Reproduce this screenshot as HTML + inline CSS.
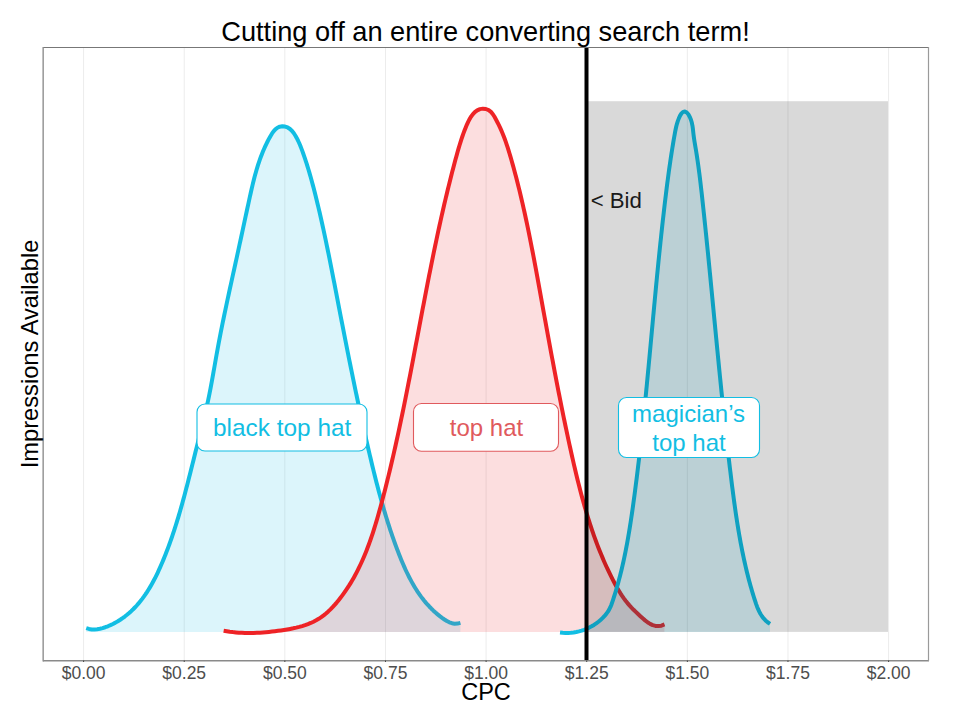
<!DOCTYPE html>
<html><head><meta charset="utf-8"><style>html,body{margin:0;padding:0;background:#fff;}svg{display:block;}text{font-family:"Liberation Sans",sans-serif;}</style></head>
<body><svg width="960" height="720" viewBox="0 0 960 720" font-family="Liberation Sans, sans-serif">
<rect width="960" height="720" fill="#fff"/>
<line x1="83.60" y1="48" x2="83.60" y2="660" stroke="#ececec" stroke-width="1"/>
<line x1="184.22" y1="48" x2="184.22" y2="660" stroke="#ececec" stroke-width="1"/>
<line x1="284.85" y1="48" x2="284.85" y2="660" stroke="#ececec" stroke-width="1"/>
<line x1="385.48" y1="48" x2="385.48" y2="660" stroke="#ececec" stroke-width="1"/>
<line x1="486.10" y1="48" x2="486.10" y2="660" stroke="#ececec" stroke-width="1"/>
<line x1="586.73" y1="48" x2="586.73" y2="660" stroke="#ececec" stroke-width="1"/>
<line x1="687.35" y1="48" x2="687.35" y2="660" stroke="#ececec" stroke-width="1"/>
<line x1="787.98" y1="48" x2="787.98" y2="660" stroke="#ececec" stroke-width="1"/>
<line x1="888.60" y1="48" x2="888.60" y2="660" stroke="#ececec" stroke-width="1"/>

<path d="M86.24,628.10 L88.99,628.96 L91.74,629.41 L94.48,629.50 L97.20,629.28 L99.90,628.80 L102.58,628.10 L105.22,627.24 L107.84,626.26 L110.41,625.16 L112.94,623.95 L115.42,622.64 L117.85,621.23 L120.23,619.74 L122.55,618.16 L124.81,616.51 L127.00,614.79 L129.12,613.00 L131.17,611.15 L133.16,609.24 L135.08,607.27 L136.95,605.24 L138.75,603.16 L140.50,601.04 L142.20,598.86 L143.84,596.64 L145.43,594.38 L146.97,592.08 L148.46,589.74 L149.91,587.36 L151.31,584.95 L152.68,582.51 L154.00,580.05 L155.29,577.56 L156.54,575.05 L157.76,572.51 L158.94,569.96 L160.10,567.40 L161.23,564.82 L162.34,562.24 L163.42,559.64 L164.48,557.05 L165.52,554.44 L166.53,551.83 L167.53,549.22 L168.51,546.60 L169.47,543.98 L170.41,541.36 L171.34,538.73 L172.25,536.09 L173.14,533.45 L174.01,530.81 L174.88,528.17 L175.72,525.52 L176.55,522.87 L177.37,520.21 L178.18,517.55 L178.97,514.89 L179.76,512.22 L180.53,509.55 L181.29,506.88 L182.04,504.21 L182.78,501.53 L183.51,498.86 L184.24,496.17 L184.96,493.49 L185.67,490.81 L186.37,488.12 L187.07,485.43 L187.77,482.74 L188.46,480.05 L189.14,477.35 L189.82,474.66 L190.50,471.96 L191.18,469.26 L191.86,466.56 L192.53,463.86 L193.21,461.16 L193.88,458.46 L194.56,455.76 L195.23,453.05 L195.91,450.35 L196.59,447.65 L197.28,444.94 L197.97,442.24 L198.66,439.54 L199.35,436.83 L200.03,434.13 L200.72,431.42 L201.41,428.71 L202.09,426.00 L202.76,423.29 L203.43,420.58 L204.09,417.87 L204.75,415.16 L205.39,412.44 L206.02,409.72 L206.65,407.00 L207.26,404.28 L207.85,401.56 L208.43,398.83 L209.00,396.10 L209.55,393.37 L210.09,390.64 L210.62,387.91 L211.13,385.17 L211.64,382.43 L212.14,379.69 L212.64,376.95 L213.13,374.21 L213.61,371.47 L214.10,368.73 L214.58,365.99 L215.06,363.25 L215.54,360.50 L216.02,357.76 L216.51,355.02 L217.00,352.28 L217.50,349.54 L218.00,346.81 L218.51,344.07 L219.03,341.34 L219.55,338.60 L220.08,335.87 L220.61,333.14 L221.15,330.40 L221.70,327.67 L222.25,324.94 L222.80,322.22 L223.36,319.49 L223.92,316.76 L224.49,314.03 L225.06,311.31 L225.63,308.58 L226.21,305.86 L226.79,303.13 L227.37,300.41 L227.96,297.68 L228.54,294.96 L229.13,292.24 L229.72,289.51 L230.32,286.79 L230.91,284.07 L231.51,281.34 L232.10,278.62 L232.70,275.90 L233.30,273.17 L233.90,270.45 L234.50,267.73 L235.10,265.00 L235.69,262.28 L236.29,259.56 L236.89,256.83 L237.48,254.11 L238.08,251.38 L238.67,248.66 L239.26,245.93 L239.85,243.20 L240.44,240.48 L241.03,237.75 L241.62,235.02 L242.20,232.30 L242.79,229.57 L243.37,226.84 L243.96,224.12 L244.54,221.39 L245.13,218.67 L245.72,215.95 L246.30,213.22 L246.89,210.50 L247.48,207.78 L248.07,205.07 L248.66,202.35 L249.25,199.63 L249.84,196.92 L250.44,194.21 L251.05,191.50 L251.67,188.80 L252.30,186.10 L252.94,183.40 L253.60,180.71 L254.29,178.02 L255.00,175.34 L255.74,172.67 L256.50,170.00 L257.30,167.34 L258.13,164.69 L259.01,162.04 L259.92,159.41 L260.88,156.78 L261.88,154.17 L262.93,151.56 L264.03,148.96 L265.19,146.38 L266.41,143.80 L267.68,141.24 L269.02,138.69 L270.43,136.16 L271.92,133.68 L273.54,131.37 L275.35,129.35 L277.40,127.75 L279.73,126.69 L282.33,126.27 L285.03,126.55 L287.63,127.49 L290.00,129.02 L292.08,130.98 L293.87,133.26 L295.44,135.71 L296.83,138.22 L298.10,140.75 L299.26,143.27 L300.33,145.81 L301.33,148.36 L302.29,150.92 L303.22,153.50 L304.13,156.09 L305.01,158.70 L305.88,161.32 L306.73,163.96 L307.56,166.60 L308.37,169.26 L309.17,171.93 L309.95,174.60 L310.72,177.29 L311.47,179.98 L312.20,182.68 L312.93,185.39 L313.64,188.10 L314.34,190.81 L315.04,193.53 L315.72,196.25 L316.39,198.97 L317.05,201.69 L317.71,204.41 L318.36,207.13 L319.00,209.86 L319.64,212.58 L320.26,215.30 L320.88,218.03 L321.50,220.75 L322.11,223.47 L322.71,226.20 L323.30,228.92 L323.89,231.65 L324.48,234.38 L325.06,237.10 L325.64,239.83 L326.21,242.55 L326.77,245.28 L327.33,248.01 L327.89,250.74 L328.45,253.46 L329.00,256.19 L329.55,258.92 L330.09,261.65 L330.63,264.38 L331.17,267.11 L331.71,269.84 L332.24,272.57 L332.78,275.30 L333.31,278.03 L333.84,280.76 L334.37,283.49 L334.90,286.22 L335.42,288.95 L335.95,291.68 L336.48,294.42 L337.00,297.15 L337.53,299.88 L338.06,302.61 L338.58,305.35 L339.11,308.08 L339.64,310.82 L340.17,313.55 L340.70,316.28 L341.23,319.02 L341.76,321.75 L342.29,324.49 L342.83,327.22 L343.36,329.96 L343.89,332.69 L344.43,335.42 L344.97,338.16 L345.51,340.89 L346.05,343.63 L346.59,346.36 L347.13,349.10 L347.67,351.83 L348.22,354.56 L348.76,357.30 L349.31,360.03 L349.86,362.76 L350.41,365.50 L350.97,368.23 L351.52,370.96 L352.08,373.69 L352.63,376.42 L353.19,379.16 L353.76,381.89 L354.32,384.62 L354.89,387.35 L355.45,390.08 L356.02,392.80 L356.60,395.53 L357.17,398.26 L357.75,400.99 L358.33,403.71 L358.91,406.44 L359.49,409.16 L360.08,411.89 L360.67,414.61 L361.26,417.34 L361.86,420.06 L362.46,422.78 L363.06,425.50 L363.66,428.22 L364.26,430.94 L364.87,433.66 L365.49,436.37 L366.10,439.09 L366.72,441.80 L367.34,444.52 L367.96,447.23 L368.59,449.94 L369.22,452.66 L369.86,455.37 L370.50,458.07 L371.14,460.78 L371.79,463.49 L372.44,466.19 L373.10,468.90 L373.76,471.60 L374.43,474.30 L375.11,477.00 L375.79,479.69 L376.48,482.39 L377.18,485.08 L377.88,487.77 L378.59,490.46 L379.32,493.15 L380.05,495.84 L380.78,498.52 L381.53,501.20 L382.29,503.88 L383.06,506.55 L383.84,509.22 L384.63,511.89 L385.43,514.56 L386.24,517.23 L387.07,519.89 L387.90,522.55 L388.75,525.20 L389.61,527.86 L390.49,530.51 L391.38,533.15 L392.28,535.80 L393.20,538.44 L394.13,541.07 L395.08,543.71 L396.04,546.34 L397.01,548.96 L398.01,551.58 L399.02,554.20 L400.05,556.81 L401.10,559.41 L402.17,562.01 L403.27,564.58 L404.40,567.15 L405.55,569.70 L406.74,572.23 L407.95,574.74 L409.21,577.22 L410.50,579.69 L411.82,582.13 L413.19,584.54 L414.60,586.92 L416.05,589.27 L417.55,591.59 L419.10,593.87 L420.69,596.12 L422.34,598.33 L424.04,600.49 L425.80,602.62 L427.62,604.70 L429.49,606.73 L431.43,608.72 L433.42,610.65 L435.49,612.54 L437.62,614.37 L439.81,616.14 L442.08,617.86 L444.43,619.51 L446.85,621.03 L449.35,622.30 L451.96,623.23 L454.66,623.71 L457.48,623.62 L460.41,622.86 L460.40,631.90 L86.25,631.90 Z" fill="#12bee3" fill-opacity="0.15"/>
<path d="M86.24,628.10 L88.99,628.96 L91.74,629.41 L94.48,629.50 L97.20,629.28 L99.90,628.80 L102.58,628.10 L105.22,627.24 L107.84,626.26 L110.41,625.16 L112.94,623.95 L115.42,622.64 L117.85,621.23 L120.23,619.74 L122.55,618.16 L124.81,616.51 L127.00,614.79 L129.12,613.00 L131.17,611.15 L133.16,609.24 L135.08,607.27 L136.95,605.24 L138.75,603.16 L140.50,601.04 L142.20,598.86 L143.84,596.64 L145.43,594.38 L146.97,592.08 L148.46,589.74 L149.91,587.36 L151.31,584.95 L152.68,582.51 L154.00,580.05 L155.29,577.56 L156.54,575.05 L157.76,572.51 L158.94,569.96 L160.10,567.40 L161.23,564.82 L162.34,562.24 L163.42,559.64 L164.48,557.05 L165.52,554.44 L166.53,551.83 L167.53,549.22 L168.51,546.60 L169.47,543.98 L170.41,541.36 L171.34,538.73 L172.25,536.09 L173.14,533.45 L174.01,530.81 L174.88,528.17 L175.72,525.52 L176.55,522.87 L177.37,520.21 L178.18,517.55 L178.97,514.89 L179.76,512.22 L180.53,509.55 L181.29,506.88 L182.04,504.21 L182.78,501.53 L183.51,498.86 L184.24,496.17 L184.96,493.49 L185.67,490.81 L186.37,488.12 L187.07,485.43 L187.77,482.74 L188.46,480.05 L189.14,477.35 L189.82,474.66 L190.50,471.96 L191.18,469.26 L191.86,466.56 L192.53,463.86 L193.21,461.16 L193.88,458.46 L194.56,455.76 L195.23,453.05 L195.91,450.35 L196.59,447.65 L197.28,444.94 L197.97,442.24 L198.66,439.54 L199.35,436.83 L200.03,434.13 L200.72,431.42 L201.41,428.71 L202.09,426.00 L202.76,423.29 L203.43,420.58 L204.09,417.87 L204.75,415.16 L205.39,412.44 L206.02,409.72 L206.65,407.00 L207.26,404.28 L207.85,401.56 L208.43,398.83 L209.00,396.10 L209.55,393.37 L210.09,390.64 L210.62,387.91 L211.13,385.17 L211.64,382.43 L212.14,379.69 L212.64,376.95 L213.13,374.21 L213.61,371.47 L214.10,368.73 L214.58,365.99 L215.06,363.25 L215.54,360.50 L216.02,357.76 L216.51,355.02 L217.00,352.28 L217.50,349.54 L218.00,346.81 L218.51,344.07 L219.03,341.34 L219.55,338.60 L220.08,335.87 L220.61,333.14 L221.15,330.40 L221.70,327.67 L222.25,324.94 L222.80,322.22 L223.36,319.49 L223.92,316.76 L224.49,314.03 L225.06,311.31 L225.63,308.58 L226.21,305.86 L226.79,303.13 L227.37,300.41 L227.96,297.68 L228.54,294.96 L229.13,292.24 L229.72,289.51 L230.32,286.79 L230.91,284.07 L231.51,281.34 L232.10,278.62 L232.70,275.90 L233.30,273.17 L233.90,270.45 L234.50,267.73 L235.10,265.00 L235.69,262.28 L236.29,259.56 L236.89,256.83 L237.48,254.11 L238.08,251.38 L238.67,248.66 L239.26,245.93 L239.85,243.20 L240.44,240.48 L241.03,237.75 L241.62,235.02 L242.20,232.30 L242.79,229.57 L243.37,226.84 L243.96,224.12 L244.54,221.39 L245.13,218.67 L245.72,215.95 L246.30,213.22 L246.89,210.50 L247.48,207.78 L248.07,205.07 L248.66,202.35 L249.25,199.63 L249.84,196.92 L250.44,194.21 L251.05,191.50 L251.67,188.80 L252.30,186.10 L252.94,183.40 L253.60,180.71 L254.29,178.02 L255.00,175.34 L255.74,172.67 L256.50,170.00 L257.30,167.34 L258.13,164.69 L259.01,162.04 L259.92,159.41 L260.88,156.78 L261.88,154.17 L262.93,151.56 L264.03,148.96 L265.19,146.38 L266.41,143.80 L267.68,141.24 L269.02,138.69 L270.43,136.16 L271.92,133.68 L273.54,131.37 L275.35,129.35 L277.40,127.75 L279.73,126.69 L282.33,126.27 L285.03,126.55 L287.63,127.49 L290.00,129.02 L292.08,130.98 L293.87,133.26 L295.44,135.71 L296.83,138.22 L298.10,140.75 L299.26,143.27 L300.33,145.81 L301.33,148.36 L302.29,150.92 L303.22,153.50 L304.13,156.09 L305.01,158.70 L305.88,161.32 L306.73,163.96 L307.56,166.60 L308.37,169.26 L309.17,171.93 L309.95,174.60 L310.72,177.29 L311.47,179.98 L312.20,182.68 L312.93,185.39 L313.64,188.10 L314.34,190.81 L315.04,193.53 L315.72,196.25 L316.39,198.97 L317.05,201.69 L317.71,204.41 L318.36,207.13 L319.00,209.86 L319.64,212.58 L320.26,215.30 L320.88,218.03 L321.50,220.75 L322.11,223.47 L322.71,226.20 L323.30,228.92 L323.89,231.65 L324.48,234.38 L325.06,237.10 L325.64,239.83 L326.21,242.55 L326.77,245.28 L327.33,248.01 L327.89,250.74 L328.45,253.46 L329.00,256.19 L329.55,258.92 L330.09,261.65 L330.63,264.38 L331.17,267.11 L331.71,269.84 L332.24,272.57 L332.78,275.30 L333.31,278.03 L333.84,280.76 L334.37,283.49 L334.90,286.22 L335.42,288.95 L335.95,291.68 L336.48,294.42 L337.00,297.15 L337.53,299.88 L338.06,302.61 L338.58,305.35 L339.11,308.08 L339.64,310.82 L340.17,313.55 L340.70,316.28 L341.23,319.02 L341.76,321.75 L342.29,324.49 L342.83,327.22 L343.36,329.96 L343.89,332.69 L344.43,335.42 L344.97,338.16 L345.51,340.89 L346.05,343.63 L346.59,346.36 L347.13,349.10 L347.67,351.83 L348.22,354.56 L348.76,357.30 L349.31,360.03 L349.86,362.76 L350.41,365.50 L350.97,368.23 L351.52,370.96 L352.08,373.69 L352.63,376.42 L353.19,379.16 L353.76,381.89 L354.32,384.62 L354.89,387.35 L355.45,390.08 L356.02,392.80 L356.60,395.53 L357.17,398.26 L357.75,400.99 L358.33,403.71 L358.91,406.44 L359.49,409.16 L360.08,411.89 L360.67,414.61 L361.26,417.34 L361.86,420.06 L362.46,422.78 L363.06,425.50 L363.66,428.22 L364.26,430.94 L364.87,433.66 L365.49,436.37 L366.10,439.09 L366.72,441.80 L367.34,444.52 L367.96,447.23 L368.59,449.94 L369.22,452.66 L369.86,455.37 L370.50,458.07 L371.14,460.78 L371.79,463.49 L372.44,466.19 L373.10,468.90 L373.76,471.60 L374.43,474.30 L375.11,477.00 L375.79,479.69 L376.48,482.39 L377.18,485.08 L377.88,487.77 L378.59,490.46 L379.32,493.15 L380.05,495.84 L380.78,498.52 L381.53,501.20 L382.29,503.88 L383.06,506.55 L383.84,509.22 L384.63,511.89 L385.43,514.56 L386.24,517.23 L387.07,519.89 L387.90,522.55 L388.75,525.20 L389.61,527.86 L390.49,530.51 L391.38,533.15 L392.28,535.80 L393.20,538.44 L394.13,541.07 L395.08,543.71 L396.04,546.34 L397.01,548.96 L398.01,551.58 L399.02,554.20 L400.05,556.81 L401.10,559.41 L402.17,562.01 L403.27,564.58 L404.40,567.15 L405.55,569.70 L406.74,572.23 L407.95,574.74 L409.21,577.22 L410.50,579.69 L411.82,582.13 L413.19,584.54 L414.60,586.92 L416.05,589.27 L417.55,591.59 L419.10,593.87 L420.69,596.12 L422.34,598.33 L424.04,600.49 L425.80,602.62 L427.62,604.70 L429.49,606.73 L431.43,608.72 L433.42,610.65 L435.49,612.54 L437.62,614.37 L439.81,616.14 L442.08,617.86 L444.43,619.51 L446.85,621.03 L449.35,622.30 L451.96,623.23 L454.66,623.71 L457.48,623.62 L460.41,622.86" fill="none" stroke="#12bee3" stroke-width="4" stroke-linejoin="round" stroke-linecap="butt"/>

<path d="M223.64,630.77 L226.72,631.28 L229.79,631.73 L232.84,632.10 L235.88,632.40 L238.91,632.64 L241.92,632.81 L244.93,632.92 L247.93,632.97 L250.93,632.97 L253.92,632.91 L256.91,632.80 L259.90,632.65 L262.90,632.44 L265.89,632.20 L268.90,631.91 L271.91,631.58 L274.93,631.22 L277.95,630.83 L281.00,630.41 L284.05,629.95 L287.10,629.46 L290.15,628.91 L293.19,628.31 L296.21,627.64 L299.20,626.89 L302.15,626.06 L305.07,625.14 L307.93,624.11 L310.74,622.98 L313.48,621.72 L316.14,620.33 L318.73,618.81 L321.24,617.14 L323.66,615.35 L326.00,613.44 L328.27,611.43 L330.47,609.32 L332.60,607.14 L334.66,604.88 L336.67,602.57 L338.61,600.21 L340.50,597.81 L342.33,595.39 L344.11,592.93 L345.84,590.45 L347.52,587.94 L349.16,585.41 L350.74,582.84 L352.28,580.26 L353.78,577.65 L355.23,575.01 L356.64,572.36 L358.01,569.68 L359.34,566.98 L360.63,564.26 L361.89,561.52 L363.11,558.76 L364.29,555.99 L365.45,553.20 L366.57,550.39 L367.66,547.57 L368.72,544.73 L369.76,541.88 L370.77,539.02 L371.75,536.14 L372.71,533.26 L373.65,530.36 L374.57,527.45 L375.46,524.54 L376.34,521.62 L377.20,518.69 L378.05,515.75 L378.88,512.81 L379.70,509.87 L380.51,506.92 L381.30,503.97 L382.09,501.02 L382.87,498.06 L383.64,495.10 L384.40,492.15 L385.16,489.19 L385.91,486.23 L386.65,483.27 L387.39,480.31 L388.11,477.35 L388.84,474.39 L389.55,471.42 L390.26,468.46 L390.96,465.50 L391.66,462.53 L392.35,459.56 L393.04,456.60 L393.72,453.63 L394.39,450.66 L395.06,447.69 L395.72,444.72 L396.38,441.75 L397.04,438.78 L397.68,435.81 L398.33,432.83 L398.97,429.86 L399.60,426.89 L400.23,423.91 L400.86,420.94 L401.48,417.96 L402.10,414.99 L402.71,412.01 L403.32,409.04 L403.93,406.06 L404.54,403.08 L405.14,400.11 L405.73,397.13 L406.33,394.15 L406.92,391.17 L407.51,388.19 L408.10,385.21 L408.68,382.23 L409.26,379.25 L409.84,376.28 L410.42,373.30 L411.00,370.32 L411.57,367.34 L412.15,364.35 L412.72,361.37 L413.29,358.39 L413.85,355.41 L414.42,352.43 L414.99,349.45 L415.55,346.47 L416.12,343.49 L416.68,340.51 L417.25,337.53 L417.81,334.55 L418.38,331.57 L418.94,328.59 L419.50,325.61 L420.07,322.63 L420.63,319.65 L421.20,316.67 L421.76,313.69 L422.33,310.71 L422.90,307.74 L423.47,304.76 L424.04,301.78 L424.61,298.80 L425.18,295.82 L425.76,292.85 L426.33,289.87 L426.91,286.89 L427.49,283.92 L428.07,280.94 L428.66,277.97 L429.24,274.99 L429.83,272.02 L430.43,269.05 L431.02,266.07 L431.62,263.10 L432.22,260.13 L432.83,257.16 L433.43,254.19 L434.04,251.22 L434.66,248.25 L435.28,245.28 L435.90,242.32 L436.53,239.35 L437.16,236.38 L437.79,233.42 L438.43,230.45 L439.08,227.49 L439.73,224.53 L440.38,221.57 L441.04,218.60 L441.70,215.64 L442.37,212.69 L443.05,209.73 L443.73,206.77 L444.41,203.81 L445.10,200.86 L445.80,197.90 L446.51,194.95 L447.22,192.00 L447.93,189.05 L448.65,186.10 L449.38,183.15 L450.12,180.20 L450.86,177.26 L451.61,174.31 L452.37,171.37 L453.13,168.42 L453.91,165.48 L454.68,162.54 L455.47,159.60 L456.27,156.67 L457.08,153.73 L457.90,150.80 L458.75,147.88 L459.62,144.96 L460.52,142.05 L461.46,139.15 L462.43,136.26 L463.45,133.39 L464.51,130.53 L465.63,127.68 L466.80,124.85 L468.05,122.07 L469.43,119.36 L470.98,116.78 L472.76,114.37 L474.80,112.17 L477.19,110.36 L479.93,109.14 L482.88,108.65 L485.85,108.99 L488.62,110.12 L490.96,111.91 L492.88,114.19 L494.51,116.79 L495.98,119.51 L497.40,122.22 L498.77,124.93 L500.07,127.66 L501.31,130.42 L502.49,133.20 L503.61,136.01 L504.68,138.83 L505.71,141.68 L506.69,144.54 L507.64,147.42 L508.56,150.31 L509.44,153.22 L510.31,156.13 L511.15,159.04 L511.98,161.96 L512.80,164.89 L513.61,167.81 L514.40,170.74 L515.19,173.68 L515.96,176.61 L516.72,179.55 L517.47,182.49 L518.21,185.44 L518.94,188.39 L519.66,191.34 L520.37,194.29 L521.07,197.24 L521.77,200.20 L522.45,203.16 L523.12,206.12 L523.79,209.09 L524.45,212.05 L525.10,215.02 L525.74,217.99 L526.38,220.96 L527.01,223.93 L527.63,226.91 L528.25,229.88 L528.86,232.86 L529.46,235.84 L530.06,238.82 L530.65,241.80 L531.24,244.78 L531.82,247.77 L532.40,250.75 L532.97,253.74 L533.54,256.72 L534.11,259.71 L534.67,262.70 L535.23,265.69 L535.79,268.67 L536.34,271.66 L536.89,274.65 L537.44,277.64 L537.98,280.63 L538.53,283.62 L539.07,286.61 L539.62,289.60 L540.16,292.59 L540.70,295.58 L541.24,298.57 L541.78,301.55 L542.32,304.54 L542.86,307.53 L543.40,310.52 L543.94,313.50 L544.48,316.49 L545.02,319.47 L545.57,322.46 L546.11,325.44 L546.65,328.43 L547.20,331.41 L547.74,334.40 L548.29,337.38 L548.84,340.36 L549.39,343.34 L549.94,346.33 L550.49,349.31 L551.04,352.29 L551.60,355.27 L552.16,358.25 L552.72,361.23 L553.28,364.21 L553.84,367.19 L554.40,370.17 L554.97,373.15 L555.54,376.13 L556.11,379.10 L556.68,382.08 L557.26,385.06 L557.84,388.04 L558.42,391.01 L559.01,393.99 L559.59,396.97 L560.18,399.94 L560.78,402.92 L561.37,405.89 L561.97,408.87 L562.58,411.85 L563.18,414.82 L563.79,417.79 L564.41,420.77 L565.03,423.74 L565.65,426.72 L566.27,429.69 L566.90,432.66 L567.54,435.64 L568.17,438.61 L568.81,441.58 L569.46,444.56 L570.11,447.53 L570.77,450.50 L571.43,453.47 L572.09,456.45 L572.76,459.42 L573.44,462.39 L574.12,465.36 L574.82,468.32 L575.52,471.29 L576.22,474.25 L576.94,477.21 L577.66,480.17 L578.40,483.13 L579.15,486.08 L579.90,489.03 L580.67,491.98 L581.45,494.92 L582.25,497.86 L583.05,500.79 L583.87,503.72 L584.70,506.64 L585.55,509.56 L586.42,512.48 L587.29,515.38 L588.19,518.29 L589.10,521.18 L590.03,524.07 L590.98,526.95 L591.94,529.83 L592.92,532.70 L593.92,535.56 L594.95,538.41 L595.99,541.26 L597.05,544.09 L598.14,546.92 L599.24,549.74 L600.37,552.55 L601.52,555.35 L602.70,558.14 L603.90,560.93 L605.12,563.70 L606.37,566.46 L607.64,569.21 L608.94,571.95 L610.27,574.68 L611.62,577.39 L613.00,580.10 L614.41,582.79 L615.85,585.46 L617.34,588.11 L618.88,590.73 L620.46,593.30 L622.11,595.84 L623.83,598.32 L625.62,600.74 L627.49,603.10 L629.44,605.40 L631.49,607.62 L633.61,609.79 L635.80,611.92 L638.05,614.04 L640.35,616.17 L642.69,618.31 L645.08,620.37 L647.54,622.25 L650.09,623.86 L652.72,625.11 L655.47,625.89 L658.34,626.10 L661.35,625.66 L664.52,624.46 L664.40,631.90 L223.75,631.90 Z" fill="#ee2326" fill-opacity="0.15"/>
<path d="M223.64,630.77 L226.72,631.28 L229.79,631.73 L232.84,632.10 L235.88,632.40 L238.91,632.64 L241.92,632.81 L244.93,632.92 L247.93,632.97 L250.93,632.97 L253.92,632.91 L256.91,632.80 L259.90,632.65 L262.90,632.44 L265.89,632.20 L268.90,631.91 L271.91,631.58 L274.93,631.22 L277.95,630.83 L281.00,630.41 L284.05,629.95 L287.10,629.46 L290.15,628.91 L293.19,628.31 L296.21,627.64 L299.20,626.89 L302.15,626.06 L305.07,625.14 L307.93,624.11 L310.74,622.98 L313.48,621.72 L316.14,620.33 L318.73,618.81 L321.24,617.14 L323.66,615.35 L326.00,613.44 L328.27,611.43 L330.47,609.32 L332.60,607.14 L334.66,604.88 L336.67,602.57 L338.61,600.21 L340.50,597.81 L342.33,595.39 L344.11,592.93 L345.84,590.45 L347.52,587.94 L349.16,585.41 L350.74,582.84 L352.28,580.26 L353.78,577.65 L355.23,575.01 L356.64,572.36 L358.01,569.68 L359.34,566.98 L360.63,564.26 L361.89,561.52 L363.11,558.76 L364.29,555.99 L365.45,553.20 L366.57,550.39 L367.66,547.57 L368.72,544.73 L369.76,541.88 L370.77,539.02 L371.75,536.14 L372.71,533.26 L373.65,530.36 L374.57,527.45 L375.46,524.54 L376.34,521.62 L377.20,518.69 L378.05,515.75 L378.88,512.81 L379.70,509.87 L380.51,506.92 L381.30,503.97 L382.09,501.02 L382.87,498.06 L383.64,495.10 L384.40,492.15 L385.16,489.19 L385.91,486.23 L386.65,483.27 L387.39,480.31 L388.11,477.35 L388.84,474.39 L389.55,471.42 L390.26,468.46 L390.96,465.50 L391.66,462.53 L392.35,459.56 L393.04,456.60 L393.72,453.63 L394.39,450.66 L395.06,447.69 L395.72,444.72 L396.38,441.75 L397.04,438.78 L397.68,435.81 L398.33,432.83 L398.97,429.86 L399.60,426.89 L400.23,423.91 L400.86,420.94 L401.48,417.96 L402.10,414.99 L402.71,412.01 L403.32,409.04 L403.93,406.06 L404.54,403.08 L405.14,400.11 L405.73,397.13 L406.33,394.15 L406.92,391.17 L407.51,388.19 L408.10,385.21 L408.68,382.23 L409.26,379.25 L409.84,376.28 L410.42,373.30 L411.00,370.32 L411.57,367.34 L412.15,364.35 L412.72,361.37 L413.29,358.39 L413.85,355.41 L414.42,352.43 L414.99,349.45 L415.55,346.47 L416.12,343.49 L416.68,340.51 L417.25,337.53 L417.81,334.55 L418.38,331.57 L418.94,328.59 L419.50,325.61 L420.07,322.63 L420.63,319.65 L421.20,316.67 L421.76,313.69 L422.33,310.71 L422.90,307.74 L423.47,304.76 L424.04,301.78 L424.61,298.80 L425.18,295.82 L425.76,292.85 L426.33,289.87 L426.91,286.89 L427.49,283.92 L428.07,280.94 L428.66,277.97 L429.24,274.99 L429.83,272.02 L430.43,269.05 L431.02,266.07 L431.62,263.10 L432.22,260.13 L432.83,257.16 L433.43,254.19 L434.04,251.22 L434.66,248.25 L435.28,245.28 L435.90,242.32 L436.53,239.35 L437.16,236.38 L437.79,233.42 L438.43,230.45 L439.08,227.49 L439.73,224.53 L440.38,221.57 L441.04,218.60 L441.70,215.64 L442.37,212.69 L443.05,209.73 L443.73,206.77 L444.41,203.81 L445.10,200.86 L445.80,197.90 L446.51,194.95 L447.22,192.00 L447.93,189.05 L448.65,186.10 L449.38,183.15 L450.12,180.20 L450.86,177.26 L451.61,174.31 L452.37,171.37 L453.13,168.42 L453.91,165.48 L454.68,162.54 L455.47,159.60 L456.27,156.67 L457.08,153.73 L457.90,150.80 L458.75,147.88 L459.62,144.96 L460.52,142.05 L461.46,139.15 L462.43,136.26 L463.45,133.39 L464.51,130.53 L465.63,127.68 L466.80,124.85 L468.05,122.07 L469.43,119.36 L470.98,116.78 L472.76,114.37 L474.80,112.17 L477.19,110.36 L479.93,109.14 L482.88,108.65 L485.85,108.99 L488.62,110.12 L490.96,111.91 L492.88,114.19 L494.51,116.79 L495.98,119.51 L497.40,122.22 L498.77,124.93 L500.07,127.66 L501.31,130.42 L502.49,133.20 L503.61,136.01 L504.68,138.83 L505.71,141.68 L506.69,144.54 L507.64,147.42 L508.56,150.31 L509.44,153.22 L510.31,156.13 L511.15,159.04 L511.98,161.96 L512.80,164.89 L513.61,167.81 L514.40,170.74 L515.19,173.68 L515.96,176.61 L516.72,179.55 L517.47,182.49 L518.21,185.44 L518.94,188.39 L519.66,191.34 L520.37,194.29 L521.07,197.24 L521.77,200.20 L522.45,203.16 L523.12,206.12 L523.79,209.09 L524.45,212.05 L525.10,215.02 L525.74,217.99 L526.38,220.96 L527.01,223.93 L527.63,226.91 L528.25,229.88 L528.86,232.86 L529.46,235.84 L530.06,238.82 L530.65,241.80 L531.24,244.78 L531.82,247.77 L532.40,250.75 L532.97,253.74 L533.54,256.72 L534.11,259.71 L534.67,262.70 L535.23,265.69 L535.79,268.67 L536.34,271.66 L536.89,274.65 L537.44,277.64 L537.98,280.63 L538.53,283.62 L539.07,286.61 L539.62,289.60 L540.16,292.59 L540.70,295.58 L541.24,298.57 L541.78,301.55 L542.32,304.54 L542.86,307.53 L543.40,310.52 L543.94,313.50 L544.48,316.49 L545.02,319.47 L545.57,322.46 L546.11,325.44 L546.65,328.43 L547.20,331.41 L547.74,334.40 L548.29,337.38 L548.84,340.36 L549.39,343.34 L549.94,346.33 L550.49,349.31 L551.04,352.29 L551.60,355.27 L552.16,358.25 L552.72,361.23 L553.28,364.21 L553.84,367.19 L554.40,370.17 L554.97,373.15 L555.54,376.13 L556.11,379.10 L556.68,382.08 L557.26,385.06 L557.84,388.04 L558.42,391.01 L559.01,393.99 L559.59,396.97 L560.18,399.94 L560.78,402.92 L561.37,405.89 L561.97,408.87 L562.58,411.85 L563.18,414.82 L563.79,417.79 L564.41,420.77 L565.03,423.74 L565.65,426.72 L566.27,429.69 L566.90,432.66 L567.54,435.64 L568.17,438.61 L568.81,441.58 L569.46,444.56 L570.11,447.53 L570.77,450.50 L571.43,453.47 L572.09,456.45 L572.76,459.42 L573.44,462.39 L574.12,465.36 L574.82,468.32 L575.52,471.29 L576.22,474.25 L576.94,477.21 L577.66,480.17 L578.40,483.13 L579.15,486.08 L579.90,489.03 L580.67,491.98 L581.45,494.92 L582.25,497.86 L583.05,500.79 L583.87,503.72 L584.70,506.64 L585.55,509.56 L586.42,512.48 L587.29,515.38 L588.19,518.29 L589.10,521.18 L590.03,524.07 L590.98,526.95 L591.94,529.83 L592.92,532.70 L593.92,535.56 L594.95,538.41 L595.99,541.26 L597.05,544.09 L598.14,546.92 L599.24,549.74 L600.37,552.55 L601.52,555.35 L602.70,558.14 L603.90,560.93 L605.12,563.70 L606.37,566.46 L607.64,569.21 L608.94,571.95 L610.27,574.68 L611.62,577.39 L613.00,580.10 L614.41,582.79 L615.85,585.46 L617.34,588.11 L618.88,590.73 L620.46,593.30 L622.11,595.84 L623.83,598.32 L625.62,600.74 L627.49,603.10 L629.44,605.40 L631.49,607.62 L633.61,609.79 L635.80,611.92 L638.05,614.04 L640.35,616.17 L642.69,618.31 L645.08,620.37 L647.54,622.25 L650.09,623.86 L652.72,625.11 L655.47,625.89 L658.34,626.10 L661.35,625.66 L664.52,624.46" fill="none" stroke="#ee2326" stroke-width="4" stroke-linejoin="round" stroke-linecap="butt"/>

<path d="M560.03,632.48 L562.73,632.80 L565.44,632.96 L568.16,632.96 L570.87,632.80 L573.58,632.48 L576.27,632.02 L578.94,631.41 L581.57,630.66 L584.16,629.77 L586.71,628.75 L589.19,627.60 L591.62,626.32 L593.97,624.92 L596.24,623.39 L598.42,621.75 L600.51,620.00 L602.49,618.14 L604.36,616.18 L606.11,614.11 L607.72,611.93 L609.14,609.64 L610.34,607.22 L611.37,604.71 L612.28,602.14 L613.14,599.54 L613.98,596.93 L614.80,594.33 L615.60,591.72 L616.38,589.11 L617.14,586.49 L617.89,583.87 L618.61,581.24 L619.31,578.61 L620.00,575.97 L620.66,573.33 L621.31,570.69 L621.95,568.04 L622.56,565.38 L623.16,562.72 L623.75,560.06 L624.32,557.40 L624.87,554.73 L625.41,552.05 L625.94,549.38 L626.46,546.70 L626.96,544.01 L627.45,541.33 L627.93,538.64 L628.40,535.95 L628.85,533.26 L629.30,530.56 L629.74,527.87 L630.17,525.17 L630.59,522.47 L631.00,519.77 L631.41,517.06 L631.81,514.36 L632.20,511.65 L632.59,508.95 L632.97,506.24 L633.34,503.53 L633.71,500.82 L634.08,498.11 L634.44,495.40 L634.80,492.69 L635.16,489.99 L635.51,487.27 L635.86,484.56 L636.21,481.85 L636.55,479.14 L636.89,476.43 L637.23,473.72 L637.56,471.01 L637.89,468.30 L638.21,465.58 L638.54,462.87 L638.86,460.16 L639.18,457.45 L639.49,454.73 L639.80,452.02 L640.11,449.31 L640.42,446.59 L640.72,443.88 L641.03,441.16 L641.33,438.45 L641.62,435.73 L641.92,433.02 L642.21,430.30 L642.50,427.59 L642.79,424.87 L643.07,422.16 L643.36,419.44 L643.64,416.73 L643.92,414.01 L644.20,411.29 L644.47,408.58 L644.75,405.86 L645.02,403.15 L645.29,400.43 L645.56,397.71 L645.83,394.99 L646.10,392.28 L646.36,389.56 L646.63,386.84 L646.89,384.13 L647.15,381.41 L647.41,378.69 L647.67,375.97 L647.93,373.26 L648.19,370.54 L648.45,367.82 L648.70,365.10 L648.96,362.38 L649.22,359.67 L649.47,356.95 L649.72,354.23 L649.98,351.51 L650.23,348.79 L650.48,346.07 L650.73,343.36 L650.99,340.64 L651.24,337.92 L651.49,335.20 L651.74,332.48 L651.99,329.76 L652.25,327.05 L652.50,324.33 L652.75,321.61 L653.00,318.89 L653.25,316.17 L653.51,313.45 L653.76,310.74 L654.02,308.02 L654.27,305.30 L654.53,302.58 L654.78,299.86 L655.04,297.15 L655.30,294.43 L655.55,291.71 L655.81,288.99 L656.07,286.27 L656.33,283.56 L656.60,280.84 L656.86,278.12 L657.12,275.40 L657.39,272.69 L657.66,269.97 L657.93,267.25 L658.20,264.54 L658.47,261.82 L658.74,259.10 L659.02,256.39 L659.30,253.67 L659.57,250.95 L659.85,248.24 L660.14,245.52 L660.42,242.81 L660.71,240.09 L661.00,237.37 L661.29,234.66 L661.58,231.94 L661.88,229.23 L662.17,226.51 L662.47,223.80 L662.78,221.08 L663.08,218.37 L663.39,215.66 L663.70,212.94 L664.01,210.23 L664.33,207.52 L664.65,204.80 L664.97,202.09 L665.29,199.38 L665.62,196.66 L665.95,193.95 L666.28,191.24 L666.62,188.53 L666.97,185.82 L667.31,183.11 L667.66,180.40 L668.02,177.69 L668.38,174.99 L668.75,172.28 L669.12,169.58 L669.50,166.87 L669.89,164.17 L670.28,161.47 L670.68,158.78 L671.09,156.08 L671.50,153.39 L671.93,150.69 L672.36,148.00 L672.79,145.32 L673.24,142.63 L673.70,139.95 L674.16,137.27 L674.64,134.59 L675.12,131.92 L675.65,129.24 L676.25,126.55 L676.95,123.85 L677.80,121.13 L678.83,118.38 L680.07,115.68 L681.50,113.38 L683.11,111.87 L684.90,111.55 L686.76,112.53 L688.48,114.53 L689.93,117.18 L691.05,120.03 L691.85,122.82 L692.42,125.57 L692.82,128.28 L693.12,130.97 L693.40,133.65 L693.73,136.33 L694.11,139.02 L694.54,141.70 L694.98,144.39 L695.44,147.09 L695.90,149.78 L696.34,152.48 L696.76,155.17 L697.17,157.87 L697.57,160.57 L697.96,163.28 L698.34,165.98 L698.71,168.69 L699.06,171.39 L699.41,174.10 L699.75,176.81 L700.08,179.52 L700.41,182.23 L700.73,184.94 L701.04,187.66 L701.35,190.37 L701.66,193.08 L701.96,195.80 L702.26,198.51 L702.55,201.23 L702.85,203.94 L703.14,206.66 L703.43,209.37 L703.72,212.09 L704.01,214.80 L704.30,217.52 L704.58,220.23 L704.87,222.95 L705.15,225.67 L705.43,228.38 L705.71,231.10 L705.99,233.81 L706.27,236.53 L706.55,239.25 L706.82,241.96 L707.10,244.68 L707.37,247.40 L707.64,250.12 L707.92,252.83 L708.19,255.55 L708.46,258.27 L708.73,260.99 L708.99,263.70 L709.26,266.42 L709.53,269.14 L709.79,271.86 L710.06,274.57 L710.33,277.29 L710.59,280.01 L710.85,282.73 L711.12,285.45 L711.38,288.17 L711.64,290.88 L711.91,293.60 L712.17,296.32 L712.43,299.04 L712.69,301.76 L712.95,304.47 L713.22,307.19 L713.48,309.91 L713.74,312.63 L714.00,315.35 L714.26,318.07 L714.52,320.78 L714.78,323.50 L715.05,326.22 L715.31,328.94 L715.57,331.66 L715.83,334.38 L716.09,337.09 L716.36,339.81 L716.62,342.53 L716.88,345.25 L717.15,347.97 L717.41,350.68 L717.68,353.40 L717.94,356.12 L718.21,358.84 L718.48,361.55 L718.74,364.27 L719.01,366.99 L719.28,369.71 L719.55,372.42 L719.82,375.14 L720.10,377.86 L720.37,380.57 L720.64,383.29 L720.92,386.01 L721.19,388.72 L721.47,391.44 L721.75,394.15 L722.03,396.87 L722.31,399.59 L722.59,402.30 L722.87,405.02 L723.16,407.73 L723.44,410.45 L723.73,413.16 L724.02,415.88 L724.31,418.59 L724.60,421.31 L724.89,424.02 L725.19,426.73 L725.48,429.45 L725.78,432.16 L726.08,434.87 L726.38,437.59 L726.69,440.30 L726.99,443.01 L727.30,445.73 L727.61,448.44 L727.92,451.15 L728.23,453.86 L728.55,456.57 L728.87,459.28 L729.19,461.99 L729.51,464.71 L729.83,467.42 L730.16,470.13 L730.49,472.84 L730.82,475.55 L731.15,478.25 L731.48,480.96 L731.82,483.67 L732.16,486.38 L732.51,489.09 L732.86,491.80 L733.21,494.50 L733.57,497.21 L733.93,499.91 L734.29,502.62 L734.67,505.32 L735.05,508.02 L735.43,510.73 L735.82,513.43 L736.22,516.13 L736.63,518.82 L737.05,521.52 L737.47,524.22 L737.91,526.91 L738.35,529.60 L738.80,532.29 L739.26,534.98 L739.74,537.67 L740.22,540.36 L740.71,543.04 L741.22,545.72 L741.74,548.40 L742.27,551.08 L742.82,553.75 L743.37,556.43 L743.94,559.10 L744.53,561.77 L745.13,564.43 L745.74,567.10 L746.37,569.76 L747.02,572.42 L747.68,575.07 L748.36,577.73 L749.05,580.38 L749.77,583.02 L750.50,585.67 L751.25,588.31 L752.01,590.95 L752.80,593.58 L753.60,596.22 L754.43,598.84 L755.27,601.47 L756.15,604.08 L757.09,606.66 L758.12,609.19 L759.26,611.65 L760.54,614.02 L761.99,616.28 L763.64,618.42 L765.51,620.41 L767.64,622.24 L770.03,623.88 L770.00,631.90 L560.00,631.90 Z" fill="#12bee3" fill-opacity="0.15"/>
<path d="M560.03,632.48 L562.73,632.80 L565.44,632.96 L568.16,632.96 L570.87,632.80 L573.58,632.48 L576.27,632.02 L578.94,631.41 L581.57,630.66 L584.16,629.77 L586.71,628.75 L589.19,627.60 L591.62,626.32 L593.97,624.92 L596.24,623.39 L598.42,621.75 L600.51,620.00 L602.49,618.14 L604.36,616.18 L606.11,614.11 L607.72,611.93 L609.14,609.64 L610.34,607.22 L611.37,604.71 L612.28,602.14 L613.14,599.54 L613.98,596.93 L614.80,594.33 L615.60,591.72 L616.38,589.11 L617.14,586.49 L617.89,583.87 L618.61,581.24 L619.31,578.61 L620.00,575.97 L620.66,573.33 L621.31,570.69 L621.95,568.04 L622.56,565.38 L623.16,562.72 L623.75,560.06 L624.32,557.40 L624.87,554.73 L625.41,552.05 L625.94,549.38 L626.46,546.70 L626.96,544.01 L627.45,541.33 L627.93,538.64 L628.40,535.95 L628.85,533.26 L629.30,530.56 L629.74,527.87 L630.17,525.17 L630.59,522.47 L631.00,519.77 L631.41,517.06 L631.81,514.36 L632.20,511.65 L632.59,508.95 L632.97,506.24 L633.34,503.53 L633.71,500.82 L634.08,498.11 L634.44,495.40 L634.80,492.69 L635.16,489.99 L635.51,487.27 L635.86,484.56 L636.21,481.85 L636.55,479.14 L636.89,476.43 L637.23,473.72 L637.56,471.01 L637.89,468.30 L638.21,465.58 L638.54,462.87 L638.86,460.16 L639.18,457.45 L639.49,454.73 L639.80,452.02 L640.11,449.31 L640.42,446.59 L640.72,443.88 L641.03,441.16 L641.33,438.45 L641.62,435.73 L641.92,433.02 L642.21,430.30 L642.50,427.59 L642.79,424.87 L643.07,422.16 L643.36,419.44 L643.64,416.73 L643.92,414.01 L644.20,411.29 L644.47,408.58 L644.75,405.86 L645.02,403.15 L645.29,400.43 L645.56,397.71 L645.83,394.99 L646.10,392.28 L646.36,389.56 L646.63,386.84 L646.89,384.13 L647.15,381.41 L647.41,378.69 L647.67,375.97 L647.93,373.26 L648.19,370.54 L648.45,367.82 L648.70,365.10 L648.96,362.38 L649.22,359.67 L649.47,356.95 L649.72,354.23 L649.98,351.51 L650.23,348.79 L650.48,346.07 L650.73,343.36 L650.99,340.64 L651.24,337.92 L651.49,335.20 L651.74,332.48 L651.99,329.76 L652.25,327.05 L652.50,324.33 L652.75,321.61 L653.00,318.89 L653.25,316.17 L653.51,313.45 L653.76,310.74 L654.02,308.02 L654.27,305.30 L654.53,302.58 L654.78,299.86 L655.04,297.15 L655.30,294.43 L655.55,291.71 L655.81,288.99 L656.07,286.27 L656.33,283.56 L656.60,280.84 L656.86,278.12 L657.12,275.40 L657.39,272.69 L657.66,269.97 L657.93,267.25 L658.20,264.54 L658.47,261.82 L658.74,259.10 L659.02,256.39 L659.30,253.67 L659.57,250.95 L659.85,248.24 L660.14,245.52 L660.42,242.81 L660.71,240.09 L661.00,237.37 L661.29,234.66 L661.58,231.94 L661.88,229.23 L662.17,226.51 L662.47,223.80 L662.78,221.08 L663.08,218.37 L663.39,215.66 L663.70,212.94 L664.01,210.23 L664.33,207.52 L664.65,204.80 L664.97,202.09 L665.29,199.38 L665.62,196.66 L665.95,193.95 L666.28,191.24 L666.62,188.53 L666.97,185.82 L667.31,183.11 L667.66,180.40 L668.02,177.69 L668.38,174.99 L668.75,172.28 L669.12,169.58 L669.50,166.87 L669.89,164.17 L670.28,161.47 L670.68,158.78 L671.09,156.08 L671.50,153.39 L671.93,150.69 L672.36,148.00 L672.79,145.32 L673.24,142.63 L673.70,139.95 L674.16,137.27 L674.64,134.59 L675.12,131.92 L675.65,129.24 L676.25,126.55 L676.95,123.85 L677.80,121.13 L678.83,118.38 L680.07,115.68 L681.50,113.38 L683.11,111.87 L684.90,111.55 L686.76,112.53 L688.48,114.53 L689.93,117.18 L691.05,120.03 L691.85,122.82 L692.42,125.57 L692.82,128.28 L693.12,130.97 L693.40,133.65 L693.73,136.33 L694.11,139.02 L694.54,141.70 L694.98,144.39 L695.44,147.09 L695.90,149.78 L696.34,152.48 L696.76,155.17 L697.17,157.87 L697.57,160.57 L697.96,163.28 L698.34,165.98 L698.71,168.69 L699.06,171.39 L699.41,174.10 L699.75,176.81 L700.08,179.52 L700.41,182.23 L700.73,184.94 L701.04,187.66 L701.35,190.37 L701.66,193.08 L701.96,195.80 L702.26,198.51 L702.55,201.23 L702.85,203.94 L703.14,206.66 L703.43,209.37 L703.72,212.09 L704.01,214.80 L704.30,217.52 L704.58,220.23 L704.87,222.95 L705.15,225.67 L705.43,228.38 L705.71,231.10 L705.99,233.81 L706.27,236.53 L706.55,239.25 L706.82,241.96 L707.10,244.68 L707.37,247.40 L707.64,250.12 L707.92,252.83 L708.19,255.55 L708.46,258.27 L708.73,260.99 L708.99,263.70 L709.26,266.42 L709.53,269.14 L709.79,271.86 L710.06,274.57 L710.33,277.29 L710.59,280.01 L710.85,282.73 L711.12,285.45 L711.38,288.17 L711.64,290.88 L711.91,293.60 L712.17,296.32 L712.43,299.04 L712.69,301.76 L712.95,304.47 L713.22,307.19 L713.48,309.91 L713.74,312.63 L714.00,315.35 L714.26,318.07 L714.52,320.78 L714.78,323.50 L715.05,326.22 L715.31,328.94 L715.57,331.66 L715.83,334.38 L716.09,337.09 L716.36,339.81 L716.62,342.53 L716.88,345.25 L717.15,347.97 L717.41,350.68 L717.68,353.40 L717.94,356.12 L718.21,358.84 L718.48,361.55 L718.74,364.27 L719.01,366.99 L719.28,369.71 L719.55,372.42 L719.82,375.14 L720.10,377.86 L720.37,380.57 L720.64,383.29 L720.92,386.01 L721.19,388.72 L721.47,391.44 L721.75,394.15 L722.03,396.87 L722.31,399.59 L722.59,402.30 L722.87,405.02 L723.16,407.73 L723.44,410.45 L723.73,413.16 L724.02,415.88 L724.31,418.59 L724.60,421.31 L724.89,424.02 L725.19,426.73 L725.48,429.45 L725.78,432.16 L726.08,434.87 L726.38,437.59 L726.69,440.30 L726.99,443.01 L727.30,445.73 L727.61,448.44 L727.92,451.15 L728.23,453.86 L728.55,456.57 L728.87,459.28 L729.19,461.99 L729.51,464.71 L729.83,467.42 L730.16,470.13 L730.49,472.84 L730.82,475.55 L731.15,478.25 L731.48,480.96 L731.82,483.67 L732.16,486.38 L732.51,489.09 L732.86,491.80 L733.21,494.50 L733.57,497.21 L733.93,499.91 L734.29,502.62 L734.67,505.32 L735.05,508.02 L735.43,510.73 L735.82,513.43 L736.22,516.13 L736.63,518.82 L737.05,521.52 L737.47,524.22 L737.91,526.91 L738.35,529.60 L738.80,532.29 L739.26,534.98 L739.74,537.67 L740.22,540.36 L740.71,543.04 L741.22,545.72 L741.74,548.40 L742.27,551.08 L742.82,553.75 L743.37,556.43 L743.94,559.10 L744.53,561.77 L745.13,564.43 L745.74,567.10 L746.37,569.76 L747.02,572.42 L747.68,575.07 L748.36,577.73 L749.05,580.38 L749.77,583.02 L750.50,585.67 L751.25,588.31 L752.01,590.95 L752.80,593.58 L753.60,596.22 L754.43,598.84 L755.27,601.47 L756.15,604.08 L757.09,606.66 L758.12,609.19 L759.26,611.65 L760.54,614.02 L761.99,616.28 L763.64,618.42 L765.51,620.41 L767.64,622.24 L770.03,623.88" fill="none" stroke="#12bee3" stroke-width="4" stroke-linejoin="round" stroke-linecap="butt"/>

<rect x="586.5" y="101.2" width="301.5" height="530.70" fill="#000" fill-opacity="0.15"/>
<line x1="586.5" y1="47" x2="586.5" y2="661" stroke="#000" stroke-width="4"/>
<text x="590.7" y="208.4" font-size="22.2" fill="#1a1a1a">&lt; Bid</text>
<rect x="197" y="404" width="170" height="47" rx="8" fill="#fff" stroke="#12bee3" stroke-width="1.1"/>
<text x="282.2" y="435.8" text-anchor="middle" font-size="24.4" fill="#12bee3">black top hat</text>
<rect x="413.5" y="403.5" width="145" height="47.8" rx="8" fill="#fff" stroke="#e05a5d" stroke-width="1.1"/>
<text x="486.5" y="435.9" text-anchor="middle" font-size="24" fill="#e05a5d">top hat</text>
<rect x="618.5" y="397.5" width="141" height="60" rx="8" fill="#fff" stroke="#12bee3" stroke-width="1.1"/>
<text x="688.6" y="421.8" text-anchor="middle" font-size="24" fill="#12bee3">magician’s</text>
<text x="689" y="450.6" text-anchor="middle" font-size="24" fill="#12bee3">top hat</text>
<line x1="43" y1="47.5" x2="929" y2="47.5" stroke="#777" stroke-width="1.1"/>
<line x1="43" y1="660.75" x2="929" y2="660.75" stroke="#8a8a8a" stroke-width="1.5"/>
<line x1="43.15" y1="47" x2="43.15" y2="661.5" stroke="#8e8e8e" stroke-width="1.4"/>
<line x1="928.5" y1="47" x2="928.5" y2="661" stroke="#9a9a9a" stroke-width="1.2"/>
<line x1="83.60" y1="660.5" x2="83.60" y2="662" stroke="#444" stroke-width="1"/>
<line x1="184.22" y1="660.5" x2="184.22" y2="662" stroke="#444" stroke-width="1"/>
<line x1="284.85" y1="660.5" x2="284.85" y2="662" stroke="#444" stroke-width="1"/>
<line x1="385.48" y1="660.5" x2="385.48" y2="662" stroke="#444" stroke-width="1"/>
<line x1="486.10" y1="660.5" x2="486.10" y2="662" stroke="#444" stroke-width="1"/>
<line x1="586.73" y1="660.5" x2="586.73" y2="662" stroke="#444" stroke-width="1"/>
<line x1="687.35" y1="660.5" x2="687.35" y2="662" stroke="#444" stroke-width="1"/>
<line x1="787.98" y1="660.5" x2="787.98" y2="662" stroke="#444" stroke-width="1"/>
<line x1="888.60" y1="660.5" x2="888.60" y2="662" stroke="#444" stroke-width="1"/>

<text x="83.60" y="678.8" text-anchor="middle" font-size="17.5" fill="#4d4d4d">$0.00</text>
<text x="184.22" y="678.8" text-anchor="middle" font-size="17.5" fill="#4d4d4d">$0.25</text>
<text x="284.85" y="678.8" text-anchor="middle" font-size="17.5" fill="#4d4d4d">$0.50</text>
<text x="385.48" y="678.8" text-anchor="middle" font-size="17.5" fill="#4d4d4d">$0.75</text>
<text x="486.10" y="678.8" text-anchor="middle" font-size="17.5" fill="#4d4d4d">$1.00</text>
<text x="586.73" y="678.8" text-anchor="middle" font-size="17.5" fill="#4d4d4d">$1.25</text>
<text x="687.35" y="678.8" text-anchor="middle" font-size="17.5" fill="#4d4d4d">$1.50</text>
<text x="787.98" y="678.8" text-anchor="middle" font-size="17.5" fill="#4d4d4d">$1.75</text>
<text x="888.60" y="678.8" text-anchor="middle" font-size="17.5" fill="#4d4d4d">$2.00</text>

<text x="486" y="699.6" text-anchor="middle" font-size="23.5" fill="#000">CPC</text>
<text x="485.5" y="40.6" text-anchor="middle" font-size="27.2" fill="#000">Cutting off an entire converting search term!</text>
<text transform="translate(38.1,354.0) rotate(-90)" text-anchor="middle" font-size="23.7" fill="#000">Impressions Available</text>
</svg></body></html>
